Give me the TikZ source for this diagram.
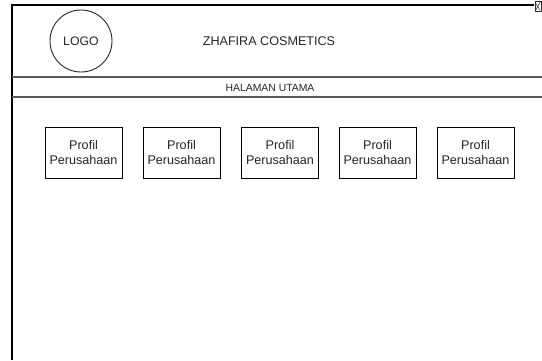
\documentclass[tikz,border=0pt]{standalone}
\usepackage{fontspec}
\setmainfont{Liberation Sans}
\begin{document}
\begin{tikzpicture}[x=1pt,y=-1pt,
  frameline/.style={draw=black,line width=1.1pt},
  sepline/.style={draw=black!65,line width=1.4pt},
  label/.style={text=black!85,font=\fontsize{12.6}{15}\selectfont,inner sep=0pt},
  menubox/.style={draw=black,line width=0.9pt,minimum width=77pt,minimum height=51pt,
    inner sep=1pt,align=center,text=black!85,font=\fontsize{12.6}{15.5}\selectfont},
  logocircle/.style={draw=black!85,line width=0.9pt,circle,minimum size=62pt,inner sep=0pt,
    text=black!85,font=\fontsize{12.3}{15}\selectfont}]
\useasboundingbox (0,0) rectangle (542,360);
\fill[white] (0,0) rectangle (542,360);

% page frame: left edge and top edge
\coordinate (tl) at (12,5);
\coordinate (bl) at (12,360);
\coordinate (tr) at (534,5);
\draw[frameline] (bl) -- (tl) -- (tr);

% header separators
\coordinate (s1l) at (12,77);
\coordinate (s1r) at (542,77);
\coordinate (s2l) at (12,97);
\coordinate (s2r) at (542,97);
\draw[sepline] (s1l) -- (s1r);
\draw[sepline] (s2l) -- (s2r);

% small close icon at the top right corner
\draw[black!80,line width=0.6pt] (535,1) rectangle (541,11);
\draw[black!80,line width=0.6pt] (535.5,10.5) -- (540.5,1.5);
\draw[black!80,line width=0.5pt] (535.5,3) -- (540,10);

% header
\node[logocircle] (logo) at (81,41) {LOGO};
\node[label] (title) at (269,41) {ZHAFIRA COSMETICS};
\node[label,font=\fontsize{10.4}{12}\selectfont] (menu) at (270,87.5) {HALAMAN UTAMA};

% menu boxes
\foreach \i/\x in {1/83.5,2/181.5,3/280,4/377.5,5/475.5}{
  \node[menubox] (box\i) at (\x,152.5) {Profil\\Perusahaan};
}
\end{tikzpicture}
\end{document}
